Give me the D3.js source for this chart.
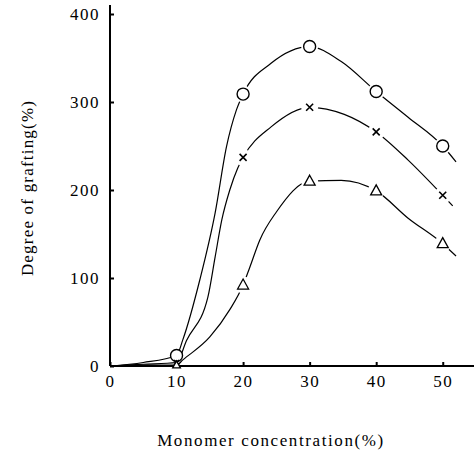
<!DOCTYPE html>
<html><head><meta charset="utf-8">
<script src="https://cdn.jsdelivr.net/npm/d3@7"></script>
<style>body{margin:0;background:#fff}svg{display:block}</style>
</head><body>
<script>
// Marker data
const conc = [10, 20, 30, 40, 50];
const seriesCircle = [12, 309, 363, 312, 250];
const seriesCross = [4, 237, 294, 266, 194];
const seriesTriangle = [1, 92, 210, 199, 139];
// Hand-drawn curve shapes (x, y)
const curveCircle = [[0,0],[5,4],[10,12],[10.95,30],[13.5,98],[15.8,174],[17.5,249],[19,291],[20,309],[24.2,344],[30,363],[34.75,346],[40,312],[44.75,283],[50,250],[52,232]];
const curveCross = [[0,0],[5,2],[10,4],[11.5,29],[14.7,78],[15.8,124],[16.8,166],[18,200],[19.2,225],[20,237],[24.25,272],[30,294],[35.2,286],[40,266],[44.8,234],[50,194],[51.5,182]];
const curveTriangle = [[0,0],[5,1],[10,1],[10.95,7],[15,33],[18,64],[20,92],[21,112],[22.5,143],[25,175],[30,210],[34.75,211],[40,199],[44.8,168],[50,139],[52,125]];
const xTicks = [0, 10, 20, 30, 40, 50];
const yTicks = [0, 100, 200, 300, 400];
const xTitle = "Monomer concentration(%)";
const yTitle = "Degree of grafting(%)";

const W = 474, H = 454;
const svg = d3.select("body").append("svg").attr("width", W).attr("height", H);
const x = d3.scaleLinear().domain([0, 55]).range([110, 476]);
const y = d3.scaleLinear().domain([0, 400]).range([366, 14]);
const font = "'Liberation Serif', 'DejaVu Serif', serif";

// axes
const gx = svg.append("g").attr("transform", `translate(0,${y(0)})`)
  .call(d3.axisBottom(x).tickValues(xTicks).tickSize(-4).tickPadding(9).tickFormat(d3.format("d")));
gx.select(".domain").remove();
gx.selectAll("line").attr("stroke", "#000").attr("stroke-width", 2);
gx.selectAll("text").attr("font-family", font).attr("font-size", 17).attr("letter-spacing", 1.5).attr("fill", "#000").attr("dy", "0.71em");
svg.append("line").attr("x1", x(0)).attr("x2", 474).attr("y1", y(0)).attr("y2", y(0)).attr("stroke", "#000").attr("stroke-width", 2);

const gy = svg.append("g").attr("transform", `translate(${x(0)},0)`)
  .call(d3.axisLeft(y).tickValues(yTicks).tickSize(-4).tickPadding(10).tickFormat(d3.format("d")));
gy.select(".domain").remove();
gy.selectAll("line").attr("stroke", "#000").attr("stroke-width", 2);
gy.selectAll("text").attr("font-family", font).attr("font-size", 17).attr("letter-spacing", 1.5).attr("fill", "#000");
svg.append("line").attr("x1", x(0)).attr("x2", x(0)).attr("y1", y(0)).attr("y2", 5).attr("stroke", "#000").attr("stroke-width", 2);

// titles
svg.append("text").attr("x", 271).attr("y", 446).attr("text-anchor", "middle")
  .attr("font-family", font).attr("font-size", 17).attr("letter-spacing", 1.6).text(xTitle);
svg.append("text").attr("transform", "translate(33,188) rotate(-90)").attr("text-anchor", "middle")
  .attr("font-family", font).attr("font-size", 17).attr("letter-spacing", 1.2).text(yTitle);

// curves
const line = d3.line().x(d => x(d[0])).y(d => y(d[1])).curve(d3.curveMonotoneX);
const curves = [curveCircle, curveCross, curveTriangle];
curves.forEach(c => {
  svg.append("path").attr("d", line(c)).attr("fill", "none").attr("stroke", "#000").attr("stroke-width", 1.2);
});

// markers with white halos (gaps in lines)
const all = [
  {vals: seriesCircle, type: "circle"},
  {vals: seriesCross, type: "cross"},
  {vals: seriesTriangle, type: "tri"}
];
all.forEach(s => {
  s.vals.forEach((v, i) => {
    const cx = x(conc[i]), cy = y(v);
    if (i > 0) svg.append("circle").attr("cx", cx).attr("cy", cy).attr("r", 8.5).attr("fill", "#fff");
  });
});
all.forEach(s => {
  s.vals.forEach((v, i) => {
    const cx = x(conc[i]), cy = y(v);
    const k = i === 0 ? 0.7 : 1;
    if (s.type === "circle") {
      svg.append("circle").attr("cx", cx).attr("cy", cy).attr("r", 6).attr("fill", "#fff").attr("stroke", "#000").attr("stroke-width", 1.4);
    } else if (s.type === "cross") {
      const a = 3.5 * k;
      svg.append("path").attr("d", `M${cx-a},${cy-a}L${cx+a},${cy+a}M${cx+a},${cy-a}L${cx-a},${cy+a}`)
        .attr("stroke", "#000").attr("stroke-width", 1.6);
    } else {
      svg.append("path").attr("d", `M${cx},${cy-6*k}L${cx+5.5*k},${cy+4*k}L${cx-5.5*k},${cy+4*k}Z`)
        .attr("fill", "#fff").attr("stroke", "#000").attr("stroke-width", 1.3);
    }
  });
});
</script>
</body></html>
